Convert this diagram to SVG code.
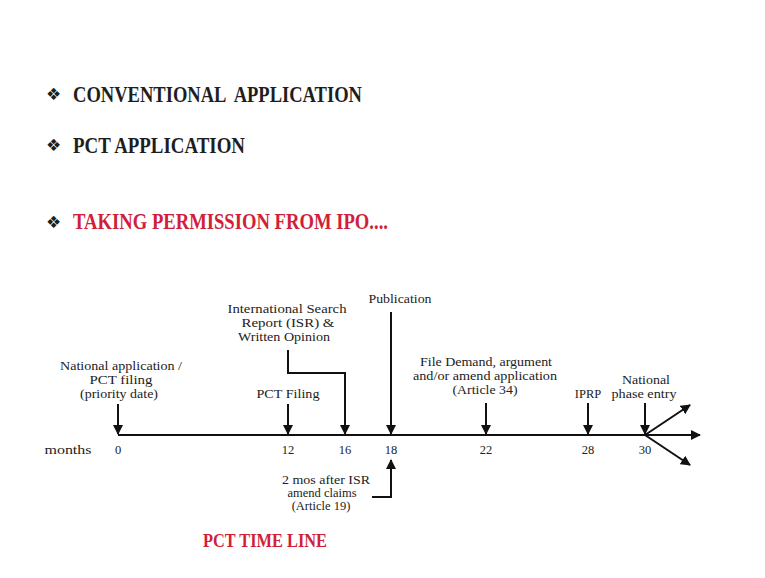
<svg xmlns="http://www.w3.org/2000/svg" width="765" height="578" viewBox="0 0 765 578">
<style>
.h{font-family:"Liberation Serif",serif;font-weight:bold;font-size:23px;fill:#1e1e1e}
.r{fill:#d11f3a}
.b{font-family:"DejaVu Sans",sans-serif;font-size:17px;fill:#1e1e1e}
.t{font-family:"Liberation Serif",serif;font-size:12.5px;fill:#222;text-anchor:middle}
.ln{stroke:#111;stroke-width:2;fill:none}
</style>
<defs>
<marker id="ah" viewBox="0 0 10 10" refX="9" refY="5" markerWidth="5" markerHeight="5" orient="auto" markerUnits="strokeWidth">
<path d="M0,0 L10,5 L0,10 z" fill="#111"/>
</marker>
</defs>
<rect width="765" height="578" fill="#fff"/>
<g id="bullets">
<text class="b" x="46" y="100">❖</text>
<text class="h" x="73" y="102" xml:space="preserve" textLength="289" lengthAdjust="spacingAndGlyphs">CONVENTIONAL  APPLICATION</text>
<text class="b" x="46" y="151">❖</text>
<text class="h" x="73" y="152.5" textLength="172" lengthAdjust="spacingAndGlyphs">PCT APPLICATION</text>
<text class="b r" x="46" y="228">❖</text>
<text class="h r" x="73" y="229" textLength="315" lengthAdjust="spacingAndGlyphs">TAKING PERMISSION FROM IPO....</text>
</g>
<g id="connectors">
<line class="ln" x1="118" y1="435" x2="700" y2="435" marker-end="url(#ah)"/>
<line class="ln" x1="118" y1="404" x2="118" y2="434" marker-end="url(#ah)"/>
<line class="ln" x1="288" y1="404" x2="288" y2="434" marker-end="url(#ah)"/>
<polyline class="ln" points="288,350 288,373 345,373 345,434" marker-end="url(#ah)"/>
<line class="ln" x1="391" y1="312" x2="391" y2="434" marker-end="url(#ah)"/>
<polyline class="ln" points="372,497 391,497 391,460" marker-end="url(#ah)"/>
<line class="ln" x1="486" y1="403" x2="486" y2="434" marker-end="url(#ah)"/>
<line class="ln" x1="588" y1="403" x2="588" y2="434" marker-end="url(#ah)"/>
<line class="ln" x1="645" y1="403" x2="645" y2="434" marker-end="url(#ah)"/>
<line class="ln" x1="645" y1="435" x2="690" y2="405" marker-end="url(#ah)"/>
<line class="ln" x1="645" y1="435" x2="690" y2="465" marker-end="url(#ah)"/>
</g>
<g id="n0">
<text class="t" x="121" y="370" textLength="122" lengthAdjust="spacingAndGlyphs">National application /</text>
<text class="t" x="121" y="384" textLength="63" lengthAdjust="spacingAndGlyphs">PCT filing</text>
<text class="t" x="119" y="398" textLength="78" lengthAdjust="spacingAndGlyphs">(priority date)</text>
<text class="t" x="118" y="454">0</text>
</g>
<g id="months"><text class="t" x="68" y="454" textLength="47" lengthAdjust="spacingAndGlyphs">months</text></g>
<g id="n12">
<text class="t" x="288" y="398" textLength="63" lengthAdjust="spacingAndGlyphs">PCT Filing</text>
<text class="t" x="288" y="454">12</text>
</g>
<g id="n16">
<text class="t" x="287" y="313" textLength="119" lengthAdjust="spacingAndGlyphs">International Search</text>
<text class="t" x="288" y="327" textLength="93" lengthAdjust="spacingAndGlyphs">Report (ISR) &amp;</text>
<text class="t" x="284" y="341" textLength="92" lengthAdjust="spacingAndGlyphs">Written Opinion</text>
<text class="t" x="345" y="454">16</text>
</g>
<g id="n18">
<text class="t" x="400" y="303" textLength="63" lengthAdjust="spacingAndGlyphs">Publication</text>
<text class="t" x="391" y="454">18</text>
</g>
<g id="n19">
<text class="t" x="326" y="484" textLength="88" lengthAdjust="spacingAndGlyphs">2 mos after ISR</text>
<text class="t" x="322" y="497">amend claims</text>
<text class="t" x="321" y="510">(Article 19)</text>
</g>
<g id="n22">
<text class="t" x="486" y="366" textLength="132" lengthAdjust="spacingAndGlyphs">File Demand, argument</text>
<text class="t" x="485" y="380" textLength="144" lengthAdjust="spacingAndGlyphs">and/or amend application</text>
<text class="t" x="485" y="394" textLength="65" lengthAdjust="spacingAndGlyphs">(Article 34)</text>
<text class="t" x="486" y="454">22</text>
</g>
<g id="n28">
<text class="t" x="588" y="398">IPRP</text>
<text class="t" x="588" y="454">28</text>
</g>
<g id="n30">
<text class="t" x="646" y="384" textLength="48" lengthAdjust="spacingAndGlyphs">National</text>
<text class="t" x="644" y="398" textLength="65" lengthAdjust="spacingAndGlyphs">phase entry</text>
<text class="t" x="645" y="454">30</text>
</g>
<g id="caption">
<text class="h r" x="203" y="547" textLength="124" lengthAdjust="spacingAndGlyphs" style="font-size:18px">PCT TIME LINE</text>
</g>
</svg>
